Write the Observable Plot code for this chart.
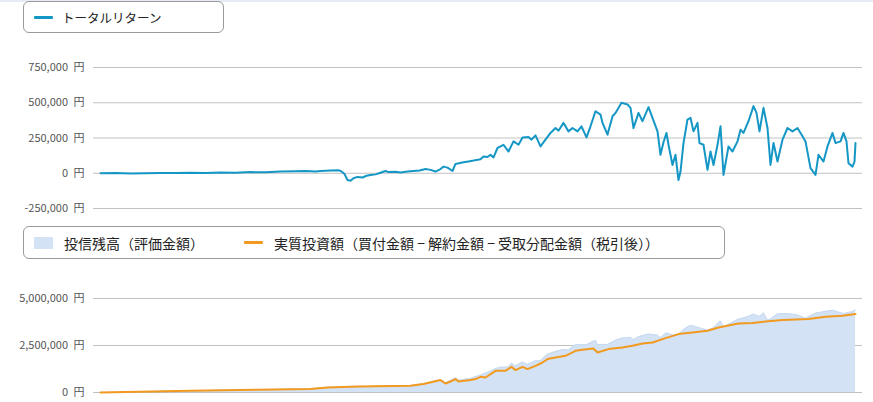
<!DOCTYPE html>
<html>
<head>
<meta charset="utf-8">
<script src="https://cdn.jsdelivr.net/npm/d3@7"></script>
<script src="https://cdn.jsdelivr.net/npm/@observablehq/plot@0.6"></script>
<style>
  html, body { margin: 0; padding: 0; background: #fff; width: 873px; height: 402px; overflow: hidden; position: relative;
    font-family: "Noto Sans CJK JP", "Noto Sans", sans-serif; }
  .topline { position: absolute; left: 0; top: 0; width: 873px; height: 2px; background: #e6ebf5; }
  .legend { position: absolute; box-sizing: border-box; border: 1px solid #9a9a9a; border-radius: 6px; background: #fff;
    color: #222; white-space: pre; }
  .item { position: absolute; top: 0; bottom: 0; display: flex; align-items: center; }
  .sw-line { display: inline-block; width: 19px; height: 3px; border-radius: 1px; }
  .sw-box { display: inline-block; width: 19px; height: 12px; }
  #chart1, #chart2 { position: absolute; left: 0; }
</style>
</head>
<body>
<div class="topline"></div>
<div class="legend" id="leg1" style="left:23px; top:1px; width:201px; height:32px;">
  <div class="item" style="left:10px;"><span class="sw-line" id="sw1"></span><span id="lt1" style="margin-left:9px; font-size:12.5px;"></span></div>
</div>
<div id="chart1" style="top:35px;"></div>
<div class="legend" id="leg2" style="left:23px; top:226px; width:702px; height:33px;">
  <div class="item" style="left:10px;"><span class="sw-box" id="sw2"></span><span id="lt2" style="margin-left:11px; font-size:14px;"></span></div>
  <div class="item" style="left:220px;"><span class="sw-line" id="sw3"></span><span id="lt3" style="margin-left:11px; font-size:14px;"></span></div>
</div>
<div id="chart2" style="top:260px;"></div>
<script>
// ---------- labels ----------
const seriesReturn = "トータルリターン";
const seriesValue = "投信残高（評価金額）";
const seriesInvested = "実質投資額（買付金額 − 解約金額 − 受取分配金額（税引後））";
const yenSuffix = "\u2002円";

// ---------- colours ----------
const colReturn = "#1597c6";
const colValue = "#d3e2f5";
const colValueEdge = "#c8daf0";
const colInvested = "#f29a1f";

// ---------- tick values ----------
const returnTicks = [-250000, 0, 250000, 500000, 750000];
const valueTicks = [0, 2500000, 5000000];

// ---------- time index (weeks from start) and values ----------
// Total return (yen)
const returnWeek = [0,15,30,45,60,75,90,105,120,135,150,165,180,195,205,215,220,230,237,240,244,247,250,253,257,262,266,270,275,280,285,288,295,300,307,313,319,325,330,335,340,343,347,352,355,363,368,373,380,383,387,390,393,397,400,403,408,413,418,422,428,431,435,440,445,450,455,458,463,468,472,477,481,486,490,495,500,502,507,512,515,521,527,530,533,538,542,548,552,557,560,563,566,568,572,575,578,580,583,587,590,593,597,599,603,607,610,613,617,620,623,628,632,637,640,643,648,653,656,659,663,667,670,673,677,682,687,692,697,702,705,710,715,718,723,727,732,735,740,743,746,748,752,754,755];
const returnValue = [0,1000,-2000,0,2000,1000,3000,2000,5000,4000,8000,7000,12000,14000,16000,13000,16000,19000,21000,18000,-5000,-48000,-53000,-35000,-26000,-30000,-18000,-12000,-8000,4000,16000,8000,10000,6000,12000,16000,20000,30000,24000,12000,30000,47000,40000,16000,66000,78000,84000,90000,100000,119000,115000,131000,112000,179000,190000,202000,154000,226000,202000,254000,257000,238000,269000,190000,238000,286000,321000,302000,357000,297000,321000,297000,333000,254000,333000,440000,416000,357000,274000,404000,428000,500000,488000,464000,321000,428000,369000,469000,393000,297000,131000,220000,286000,202000,59000,131000,-48000,12000,214000,381000,393000,297000,357000,214000,202000,24000,154000,59000,200000,333000,-12000,190000,154000,226000,309000,286000,369000,476000,428000,297000,464000,321000,59000,214000,83000,238000,321000,297000,321000,262000,226000,36000,-12000,131000,83000,190000,286000,214000,226000,286000,226000,71000,47000,83000,214000];

// Net invested amount (yen)
const investedWeek = [0,90,157,210,227,257,310,323,340,345,350,355,358,370,375,380,385,395,405,411,415,422,427,435,442,447,455,465,475,482,493,497,508,522,532,542,552,565,578,592,607,618,638,652,665,682,708,725,742,755];
const investedValue = [0,90000,144000,181000,266000,319000,356000,447000,660000,479000,585000,713000,585000,660000,713000,835000,798000,1154000,1154000,1367000,1191000,1367000,1245000,1420000,1596000,1777000,1862000,1952000,2218000,2271000,2340000,2128000,2308000,2394000,2484000,2606000,2660000,2894000,3106000,3191000,3282000,3457000,3670000,3691000,3777000,3851000,3904000,4027000,4080000,4170000];

// Fund balance / market value (yen)
const valueWeek = [0,90,157,210,227,240,250,270,310,323,340,345,355,358,370,380,390,395,400,408,411,415,422,427,435,440,447,455,463,468,475,486,495,497,502,507,515,521,530,533,538,548,557,560,566,572,578,583,590,599,607,613,620,623,637,648,653,659,663,667,670,677,687,697,705,715,727,732,743,748,752,755];
const valueValue = [0,93000,152000,199000,284000,290000,247000,318000,371000,472000,680000,519000,779000,655000,748000,935000,1131000,1273000,1344000,1354000,1567000,1406000,1621000,1495000,1689000,1690000,2037000,2183000,2287000,2267000,2538000,2544000,2780000,2548000,2557000,2554000,2778000,2890000,2934000,2811000,2968000,3109000,3047000,2911000,3176000,3059000,3058000,3354000,3573000,3444000,3306000,3439000,3813000,3488000,3886000,4049000,4171000,4037000,4239000,3859000,3908000,4181000,4201000,4126000,3948000,4220000,4331000,4376000,4197000,4260000,4290000,4384000];

// ---------- legends ----------
document.getElementById("lt1").textContent = seriesReturn;
document.getElementById("lt2").textContent = seriesValue;
document.getElementById("lt3").textContent = seriesInvested;
document.getElementById("sw1").style.background = colReturn;
document.getElementById("sw2").style.background = colValue;
document.getElementById("sw3").style.background = colInvested;

// ---------- helpers ----------
const fmtYen = d => (d < 0 ? "-" : "") + d3.format(",")(Math.abs(d)) + yenSuffix;
const returnData = returnWeek.map((w, i) => ({week: w, value: returnValue[i]}));
const investedData = investedWeek.map((w, i) => ({week: w, value: investedValue[i]}));
const valueData = valueWeek.map((w, i) => ({week: w, value: valueValue[i]}));
const weekExtent = [0, 755];
const common = {
  width: 873,
  marginLeft: 93,
  marginRight: 11,
  style: {fontFamily: "'Noto Sans CJK JP', 'Noto Sans', sans-serif", fontSize: "11px", color: "#555", background: "transparent"}
};

// ---------- chart 1: total return ----------
const chart1 = Plot.plot({
  ...common,
  height: 185,
  marginTop: 32,
  marginBottom: 12,
  x: {domain: weekExtent, insetLeft: 7, insetRight: 7, axis: null},
  y: {domain: [-250000, 750000], axis: null},
  marks: [
    Plot.gridY(returnTicks, {stroke: "#c2c2c2", strokeOpacity: 1}),
    Plot.axisY(returnTicks, {tickSize: 0, tickPadding: 9, tickFormat: fmtYen, label: null, fill: "#555"}),
    Plot.line(returnData, {x: "week", y: "value", stroke: colReturn, strokeWidth: 2, curve: "linear"})
  ]
});
document.getElementById("chart1").appendChild(chart1);

// ---------- chart 2: balance and invested ----------
const chart2 = Plot.plot({
  ...common,
  height: 142,
  marginTop: 38,
  marginBottom: 10,
  x: {domain: weekExtent, insetLeft: 7, insetRight: 7, axis: null},
  y: {domain: [0, 5000000], axis: null},
  marks: [
    Plot.gridY(valueTicks, {stroke: "#c2c2c2", strokeOpacity: 1}),
    Plot.axisY(valueTicks, {tickSize: 0, tickPadding: 9, tickFormat: fmtYen, label: null, fill: "#555"}),
    Plot.areaY(valueData, {x: "week", y: "value", fill: colValue, fillOpacity: 1}),
    Plot.line(valueData, {x: "week", y: "value", stroke: colValueEdge, strokeWidth: 1}),
    Plot.line(investedData, {x: "week", y: "value", stroke: colInvested, strokeWidth: 2})
  ]
});
document.getElementById("chart2").appendChild(chart2);
</script>
</body>
</html>
